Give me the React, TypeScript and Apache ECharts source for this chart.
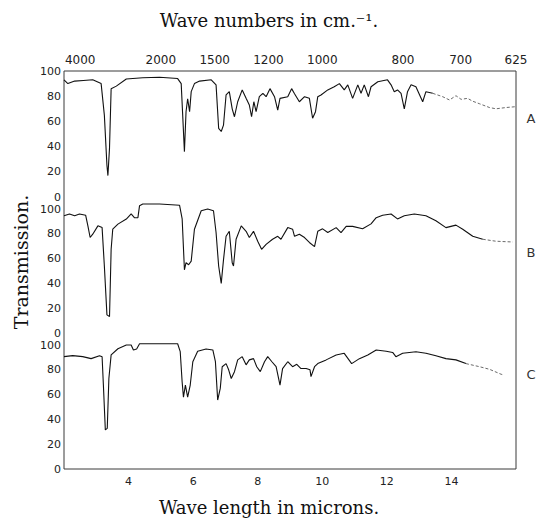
import React, { useEffect, useRef } from 'react';
import * as echarts from 'echarts';

// Axis ticks
const yTicks = [0, 20, 40, 60, 80, 100];
const micronTicks = [4, 6, 8, 10, 12, 14];
const waveNumberTicks = [4000, 2000, 1500, 1200, 1000, 800, 700, 625];
const panelLabels = ['A', 'B', 'C'];

// Spectrum A: [wavelength in microns, transmission %]
const specA = [
  [2.0, 93], [2.12, 90], [2.33, 92], [2.6, 92.5], [2.89, 93], [3.15, 90], [3.25, 65], [3.33, 25], [3.36, 17],
  [3.41, 39], [3.46, 86], [3.62, 88], [3.93, 93.6], [4.44, 94.7], [4.96, 95], [5.52, 94], [5.63, 90], [5.73, 36],
  [5.78, 67.7], [5.83, 78], [5.89, 67.7], [5.94, 83.6], [6.04, 90], [6.2, 92], [6.56, 93], [6.71, 89], [6.79, 54.5],
  [6.87, 52], [6.94, 57], [7.02, 81], [7.12, 83.6], [7.21, 70], [7.28, 63.7], [7.38, 75.6], [7.52, 85], [7.64, 78.3],
  [7.74, 73], [7.81, 63.7], [7.88, 75.6], [7.95, 67.7], [8.05, 79.6], [8.16, 82.3], [8.26, 79.6], [8.38, 86],
  [8.52, 79.6], [8.62, 69], [8.69, 78.3], [8.93, 79.6], [9.05, 86], [9.14, 82], [9.29, 75.6], [9.45, 79.6],
  [9.6, 78.3], [9.7, 62.5], [9.79, 67.7], [9.86, 79.6], [9.96, 81], [10.17, 85], [10.37, 87.5], [10.53, 90],
  [10.68, 85], [10.79, 89], [10.94, 78.3], [11.1, 89], [11.2, 82.3], [11.3, 89], [11.43, 79.6], [11.51, 87.5],
  [11.72, 91.5], [12.02, 93], [12.13, 89], [12.23, 83.6], [12.33, 85], [12.44, 82.3], [12.54, 70], [12.64, 83.6],
  [12.75, 89], [12.9, 87.5], [13.11, 75.6], [13.21, 83.6], [13.42, 82.3],
];
const tailA = [
  [13.42, 82.3], [13.73, 79.6], [13.94, 77], [14.14, 80.4], [14.3, 77.5], [14.5, 78.3], [14.66, 76], [14.87, 74],
  [15.18, 71], [15.38, 70], [15.69, 71], [16.0, 71.7],
];

// Spectrum B
const specB = [
  [2.0, 94.6], [2.17, 96], [2.33, 94.6], [2.48, 96], [2.67, 95], [2.74, 86.4], [2.81, 77], [2.89, 79.7], [3.05, 86.4],
  [3.18, 85], [3.25, 54], [3.33, 14.6], [3.41, 13.3], [3.46, 67.5], [3.51, 83.7], [3.67, 87.8], [3.93, 91.9],
  [4.08, 96], [4.18, 93], [4.29, 93], [4.34, 102.7], [4.44, 104], [4.96, 104], [5.58, 103], [5.66, 92], [5.73, 51],
  [5.78, 56.7], [5.86, 55], [5.94, 58], [6.04, 83.7], [6.25, 98.6], [6.45, 100], [6.63, 98.6], [6.71, 81], [6.79, 54],
  [6.87, 40], [6.94, 59], [7.02, 78], [7.12, 82], [7.21, 56.6], [7.25, 54], [7.33, 75.6], [7.49, 86.4], [7.64, 82],
  [7.74, 77], [7.87, 82], [8.0, 74], [8.12, 67.5], [8.26, 71.5], [8.46, 75.6], [8.62, 78], [8.72, 75.6], [8.93, 85],
  [9.08, 83.7], [9.14, 78], [9.29, 79.7], [9.45, 77], [9.6, 73], [9.76, 69.7], [9.86, 82], [10.01, 84], [10.17, 81],
  [10.43, 85], [10.58, 81], [10.74, 86], [10.94, 86], [11.25, 84], [11.51, 88], [11.67, 93], [11.87, 95], [12.13, 96],
  [12.33, 92], [12.54, 94.6], [12.85, 96], [13.21, 94.6], [13.52, 90.5], [13.83, 85], [14.14, 87], [14.35, 83.7],
  [14.66, 78], [14.97, 75.6],
];
const tailB = [[14.97, 75.6], [15.38, 74], [15.9, 73.4]];

// Spectrum C
const specC = [
  [2.0, 90.6], [2.27, 91.4], [2.58, 90.6], [2.84, 89], [3.1, 91.4], [3.18, 90.6], [3.22, 67.7], [3.28, 31.5],
  [3.34, 32.8], [3.39, 73], [3.46, 92], [3.67, 97], [3.93, 100], [4.08, 100], [4.15, 96], [4.25, 96.8], [4.34, 101],
  [4.96, 101], [5.52, 101], [5.6, 94.6], [5.66, 70], [5.7, 58], [5.76, 67.7], [5.83, 58], [5.91, 67.7], [5.99, 86.5],
  [6.14, 95], [6.4, 96.8], [6.61, 96], [6.69, 86.5], [6.76, 55.6], [6.84, 65], [6.9, 82.5], [7.02, 85], [7.1, 80],
  [7.18, 73], [7.28, 78.5], [7.38, 88], [7.52, 90.6], [7.64, 84], [7.74, 88], [7.87, 89], [7.97, 82.5], [8.08, 78.5],
  [8.21, 86.5], [8.31, 90.6], [8.44, 86.5], [8.57, 82.5], [8.69, 67.7], [8.77, 81], [8.93, 86.5], [9.08, 82.5],
  [9.21, 84.4], [9.34, 81], [9.5, 81], [9.62, 80], [9.65, 74.5], [9.76, 82.5], [9.86, 85], [10.12, 88], [10.43, 92],
  [10.68, 93.3], [10.91, 85], [11.15, 89], [11.41, 92], [11.67, 96], [11.98, 95], [12.18, 94], [12.28, 90.6],
  [12.49, 93.3], [12.9, 94.6], [13.21, 93.3], [13.52, 91.4], [13.83, 89], [14.14, 88], [14.45, 85],
];
const tailC = [[14.45, 85], [14.87, 82.5], [15.18, 80.4], [15.54, 76.4], [15.6, 76]];

const solids = [specA, specB, specC];
const tails = [tailA, tailB, tailC];
const labelY = [118, 252, 374];

export default function App() {
  const ref = useRef<HTMLDivElement>(null);
  useEffect(() => {
    if (!ref.current) return;
    const chart = echarts.init(ref.current, null, { renderer: 'svg' });
    const gridBase = { left: 64, right: 22 };
    const grids = [
      { ...gridBase, top: 71, height: 126 },
      { ...gridBase, top: 209, height: 124 },
      { ...gridBase, top: 345, height: 124 },
      { ...gridBase, top: 71, height: 398, show: true, borderColor: '#3a3a3a', borderWidth: 1, backgroundColor: 'transparent' },
    ];
    const labelFont = { fontFamily: 'DejaVu Sans', color: '#222' };
    const xAxes: any[] = [
      {
        gridIndex: 0, type: 'value', min: 2, max: 16, position: 'top',
        axisLine: { show: false }, axisTick: { show: false }, splitLine: { show: false },
        axisLabel: {
          ...labelFont, fontSize: 12, margin: 5,
          customValues: waveNumberTicks.map((w) => 10000 / w),
          formatter: (v: number) => String(Math.round(10000 / v)),
        },
      },
      { gridIndex: 1, type: 'value', min: 2, max: 16, show: false },
      {
        gridIndex: 2, type: 'value', min: 2, max: 16, position: 'bottom',
        axisLine: { show: false }, axisTick: { show: false }, splitLine: { show: false },
        axisLabel: { ...labelFont, fontSize: 11, margin: 7, customValues: micronTicks },
      },
      { gridIndex: 3, type: 'value', min: 2, max: 16, show: false },
    ];
    const yAxes: any[] = [0, 1, 2].map((i) => ({
      gridIndex: i, type: 'value', min: 0, max: 100, interval: 20,
      axisLine: { show: false }, axisTick: { show: false }, splitLine: { show: false },
      axisLabel: { ...labelFont, fontSize: 11, margin: 3, customValues: yTicks },
    }));
    yAxes.push({ gridIndex: 3, type: 'value', min: 0, max: 100, show: false });

    const series: any[] = [];
    [0, 1, 2].forEach((i) => {
      series.push({
        type: 'line', xAxisIndex: i, yAxisIndex: i, data: solids[i], showSymbol: false, symbol: 'none',
        clip: false, silent: true, lineStyle: { color: '#111', width: 1.1 },
      });
      series.push({
        type: 'line', xAxisIndex: i, yAxisIndex: i, data: tails[i], showSymbol: false, symbol: 'none',
        clip: false, silent: true, lineStyle: { color: '#444', width: 0.8, type: [3, 2] },
      });
    });

    const serifTitle = { fontFamily: 'DejaVu Serif', fontSize: 18, fontWeight: 'normal', color: '#111' };
    chart.setOption({
      animation: false,
      backgroundColor: '#fff',
      title: [
        { text: 'Wave numbers in cm.\u207B\u00B9.', left: 'center', top: 6, textStyle: serifTitle },
        { text: 'Wave length in microns.', left: 'center', top: 493, textStyle: serifTitle },
      ],
      graphic: [
        {
          type: 'text', x: 21, y: 262, rotation: Math.PI / 2,
          style: { text: 'Transmission.', fontFamily: 'DejaVu Serif', fontSize: 19, fill: '#111', align: 'center', verticalAlign: 'middle' },
        },
        ...panelLabels.map((t, i) => ({
          type: 'text', x: 531, y: labelY[i],
          style: { text: t, fontFamily: 'DejaVu Sans', fontSize: 13, fill: '#333', align: 'center', verticalAlign: 'middle' },
        })),
      ],
      grid: grids,
      xAxis: xAxes,
      yAxis: yAxes,
      series,
    });
    return () => chart.dispose();
  }, []);
  return <div ref={ref} style={{ position: 'absolute', left: 0, top: 0, width: 538, height: 519 }} />;
}
